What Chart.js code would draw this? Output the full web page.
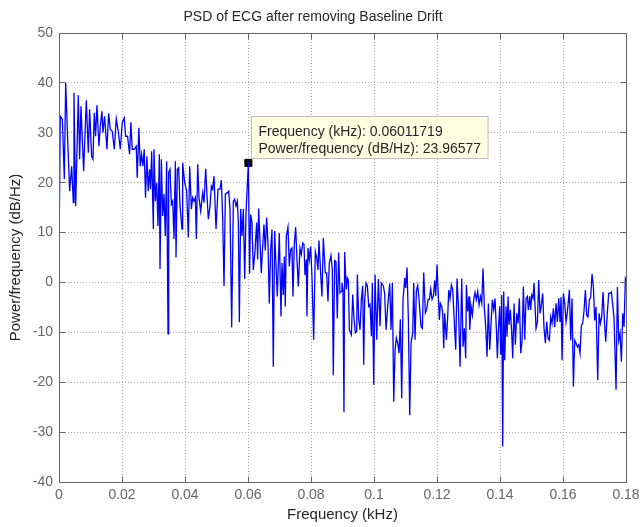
<html>
<head>
    <script src="https://cdn.jsdelivr.net/npm/chart.js@4.4.3/dist/chart.umd.min.js"></script>
    <style>
        body { margin: 0; background: #fff; }
    </style>
</head>
<body>
    <canvas id="psdchart" width="642" height="527"></canvas>
    <script>
        // PSD of the ECG after removing baseline drift, frequency in kHz, level in dB/Hz
        freqKHz = [
            0, 0.0004, 0.00106, 0.00169, 0.00212, 0.00275, 0.00338, 0.00402, 0.00455, 0.00476,
            0.00529, 0.00613, 0.00655, 0.00698, 0.00782, 0.00867, 0.0093, 0.00972, 0.01036, 0.01078,
            0.0112, 0.01162, 0.01205, 0.01268, 0.01311, 0.01363, 0.01395, 0.01448, 0.01522, 0.01575,
            0.01628, 0.01691, 0.01754, 0.01818, 0.01881, 0.01945, 0.02008, 0.02071, 0.02114, 0.02177,
            0.0224, 0.02282, 0.02325, 0.02388, 0.02452, 0.02483, 0.02536, 0.02578, 0.02621, 0.02663,
            0.02705, 0.02747, 0.0279, 0.02832, 0.02874,
            0.02905, 0.02942, 0.02995, 0.03016, 0.03058, 0.03101, 0.03143, 0.03185, 0.03207, 0.03249,
            0.03291, 0.03334, 0.03376, 0.03418, 0.03461, 0.03482, 0.03524, 0.03567, 0.03609, 0.03651,
            0.03694, 0.03715, 0.03757, 0.038, 0.03842, 0.03905, 0.03926, 0.0399, 0.04053, 0.04106,
            0.04149, 0.04202, 0.04244, 0.04286, 0.04329, 0.0436, 0.04403, 0.04445, 0.04498, 0.04561,
            0.04604, 0.04657, 0.0471, 0.04741, 0.04794, 0.04837, 0.04879, 0.04921, 0.04985, 0.05048,
            0.05112, 0.05154, 0.05197, 0.05239, 0.05281, 0.05345, 0.05387, 0.05429, 0.05482, 0.05535,
            0.05577, 0.0562, 0.05662, 0.05694, 0.05725, 0.05768, 0.0581, 0.05852, 0.05895, 0.05937,
            0.06011719, 0.0605,
            0.06084, 0.06126, 0.06168, 0.06221, 0.06274, 0.06306, 0.06338, 0.0638, 0.06422, 0.06465,
            0.06507, 0.06549, 0.06592, 0.06634, 0.06676, 0.06719, 0.06761, 0.06803, 0.06846, 0.06888,
            0.0693, 0.06994, 0.07047, 0.07079, 0.07121, 0.07153, 0.07184, 0.07216, 0.07269, 0.07311,
            0.07354, 0.07396, 0.07428, 0.0747, 0.07513, 0.07555, 0.07597, 0.0765, 0.07692, 0.07735,
            0.07777, 0.07809, 0.07851, 0.07872, 0.07904, 0.07946, 0.07988, 0.08031, 0.08084, 0.08137,
            0.08179, 0.08221, 0.08253, 0.08306, 0.08348, 0.08391, 0.08454, 0.08497, 0.08539, 0.08581,
            0.08634, 0.08677, 0.08708, 0.08751, 0.08793, 0.08835, 0.08878, 0.0892, 0.08962, 0.08984,
            0.09015, 0.09047, 0.09068, 0.09091, 0.09123, 0.09155, 0.09186, 0.09218,
            0.09282, 0.09324, 0.09366, 0.09409, 0.09451, 0.09472, 0.09515, 0.09557, 0.09599, 0.09641,
            0.09673, 0.09705, 0.09747, 0.0979, 0.09832, 0.09874, 0.09917, 0.09948, 0.09991, 0.10033,
            0.10086, 0.10139, 0.10192, 0.10234, 0.10298, 0.1034, 0.10382, 0.10435, 0.10499, 0.10541,
            0.10583, 0.10626, 0.10668, 0.1071, 0.10753, 0.10795, 0.10837, 0.1088, 0.10922, 0.10975,
            0.11007, 0.11049, 0.11091, 0.11134, 0.11176, 0.11229, 0.11261, 0.11303, 0.11345, 0.11388,
            0.1143, 0.11493, 0.11536, 0.11578, 0.11631, 0.11673, 0.11716, 0.11758, 0.118, 0.11843,
            0.11885, 0.11927, 0.11959, 0.12001,
            0.12033, 0.12076, 0.12107, 0.1215, 0.12181, 0.12213, 0.12245, 0.12298, 0.1234, 0.12372,
            0.12414, 0.12457, 0.12499, 0.12552, 0.12594, 0.12636, 0.12679, 0.12732, 0.12785, 0.12827,
            0.12869, 0.12912, 0.12933, 0.12975, 0.13017, 0.13039, 0.13081, 0.13123, 0.13166, 0.13208,
            0.1325, 0.13293, 0.13335, 0.13377, 0.1342, 0.13462, 0.13504, 0.13547, 0.13589, 0.13631,
            0.13674, 0.13716, 0.13758, 0.13801, 0.13843, 0.13885, 0.13917, 0.13949, 0.13991, 0.14023,
            0.14055, 0.14086, 0.14118, 0.1415, 0.14192, 0.14224, 0.14256, 0.14287, 0.1433, 0.14372,
            0.14404, 0.14446, 0.14488, 0.14531, 0.14573, 0.14615, 0.14658, 0.147, 0.14742, 0.14785,
            0.14827, 0.14869, 0.14901, 0.14944, 0.14975, 0.15007, 0.15049, 0.15081,
            0.15144, 0.15187, 0.15229, 0.15271, 0.15314, 0.15356, 0.15398, 0.15441, 0.15483, 0.15525,
            0.15568, 0.1561, 0.15652, 0.15695, 0.15737, 0.15779, 0.15822, 0.15864, 0.15906, 0.15938,
            0.1597, 0.16012, 0.16055, 0.16097, 0.16139, 0.16203, 0.16245, 0.16287, 0.1633, 0.16372,
            0.16414, 0.16457, 0.16499, 0.16541, 0.16584, 0.16626, 0.16668, 0.16711, 0.16753, 0.16795,
            0.16838, 0.1688, 0.16922, 0.16965, 0.17007, 0.17049, 0.17102, 0.17145, 0.17187, 0.17229,
            0.17272, 0.17314, 0.17356, 0.17409, 0.17452, 0.17494, 0.17536, 0.17579, 0.17621, 0.17684,
            0.17727, 0.17769, 0.17811, 0.17854, 0.17896, 0.17938, 0.17981, 0.18
        ];
        psdDb = [
            5, 33.3, 32.7, 20.7, 40, 28.7, 18.3, 23.3, 16, 38,
            15.3, 37.5, 24.7, 35.3, 22.3, 36.5, 26, 34.7, 25.3, 24.7,
            34, 29.3, 35.5, 27.3, 31.3, 34.3, 30, 33.3, 26.7, 33.9,
            30.7, 30.3, 26.7, 32.8, 30.3, 26.7, 32, 33, 29.3, 29.3,
            25.7, 32.1, 26.7, 26.7, 27.3, 21, 31, 23.3, 25.7, 23.3,
            26.7, 17, 25.3, 18.3, 22.7,
            18.7, 26.3, 10.7, 26.7, 16.3, 20, 11.3, 25.7, 2.7, 24.7,
            13.3, 17.7, 9.3, 24.3, -10.3, 22, 22.7, 15.7, 16.3, 8.7,
            24.3, 5, 22.7, 23, 15.3, 10.7, 24, 20, 18.3, 9,
            23.3, 14.7, 17, 16.3, 17, 8.7, 23.7, 17, 14.3, 18,
            16, 22.8, 16, 12.7, 15.3, 19.3, 18.7, 21.3, 10.7, 18.7,
            18.7, 20.5, 12.7, -0.7, 17.7, 18, 18.3, 14.7, -9, 16.3,
            16.7, 15.3, 16.3, 12, -8, 14.7, 9.3, 14.7, 0.7, 14,
            23.96577, 1.8,
            13.6, 12, 2.5, 6.2, 12, 4.6, 14.8, 8.3, 1.9, 7.2,
            11.6, 6.4, 13, 7.9, -4.2, 6.6, 10.6, -16.9, 10.3, 3.6,
            -2.8, 9.9, -6.8, 3.9, -2.5, 5.2, -4.8, 9.3, 11.1, 3.2,
            6.6, 6.9, -2.8, 7.6, 11.1, 4.6, -0.8, 6.9, 5.6, 7.9,
            7.6, 1.5, 4.6, -6.8, 6.9, 4.6, 7.2, 1.2, -11.5, 6.2,
            5, 2.5, 8.4, 1.9, -2.8, 8.9, 1.9, 1.9, -3.8, 3.9,
            5.4, 2.5, -18.6, 4.4, 4.2, -7.2, 6, -2.1, -1.8, -0.1,
            -1.5, -26, 6.1, 2.6, -1.4, 0.9, 0.5, -9.5,
            -10.5, -2.4, -7.4, -10.1, -9.8, 1.6, -7.4, -9.5, -3.4, -0.7,
            -16.5, -3.4, -0.1, -0.7, -4.8, -4.4, -10.8, -0.1, -20.5, 1.6,
            -11.5, 0.7, -8.8, -0.1, -0.7, -2.4, -9.5, -4.8, -0.2, -9.5,
            -0.1, -23.9, -13.5, -11.1, -12.1, -14.2, -7.4, -23.2, -3.4, 0.9,
            -1.1, 3, -7.4, -26.6, -12.1, -10.1, -0.1, -11.5, -1.7, -0.6,
            -3.4, -8.8, -9.2, 2, -6.1, -5.4, -3.4, -3.4, -1.3, -3.4,
            -2.7, 0.4, -2.7, 3.6,
            -1.5, -7.5, -4.2, -4.8, -6.2, -13.2, -6.2, -11.5, -6.9, -1.5,
            -3.2, -0.5, -1.5, -8.2, -13.5, 0.8, -4.5, -16.9, 0.8, -12.9,
            -9.2, -15.2, -0.5, -5.8, -2.8, -9.5, -4.8, -6.5, -3.5, -2,
            -3.5, -1.8, -4.5, -2.8, -4.2, 2.8, -5.2, -8.9, -14.9, -4.2,
            -13.5, -8.2, -3.5, -5.5, -3.2, -9.5, -15.2, -9.5, -4.8, -14.5,
            -2.5, -32.9, -1.8, -15.6, -4.8, -10.9, -2.8, -8.5, -5.5, -10.2,
            -15.2, -4.2, -12.5, -6.2, -8.2, -3.2, -14.2, -11.9, -0.8, -11.5,
            -3.2, -2.8, -5.5, -2.8, -5.5, -2.5, -3.2, -0.1,
            -9.2, -7.9, 0.5, -6.2, -4.5, -2.2, -9.2, -12.2, -7.9, -11.2,
            -11.6, -6.9, -8.2, -5.2, -8.9, -4.2, -7.9, -3.2, -7.9, -2.9,
            -15.6, -2.2, -4.2, -7.9, -5.9, -1.5, -11.6, -3.2, -20.9, -11.6,
            -12.2, -12.9, -12.5, -14.2, -8.6, -8.2, -5.6, -1.5, -6.6, -6.9,
            -3.5, -2.9, 1.7, -0.9, -7.6, -4.9, -19.6, -6.2, -8.2, -6.9,
            -1.9, -7.6, -11.9, -5.9, -2.2, -2.2, -1.9, -4.5, -7.2, -21.5,
            -0.9, -11.6, -10.2, -15.9, -6.2, -8.9, 0.8, 0.5
        ];

        // data tip
        tipFreq = 0.06011719;
        tipPower = 23.96577;

        xTicks = [0, 0.02, 0.04, 0.06, 0.08, 0.1, 0.12, 0.14, 0.16, 0.18];
        xTickLabels = ["0", "0.02", "0.04", "0.06", "0.08", "0.1", "0.12", "0.14", "0.16", "0.18"];
        yTicks = [-40, -30, -20, -10, 0, 10, 20, 30, 40, 50];

        fontName = '"Liberation Sans", Arial, Helvetica, sans-serif';
        axisColor = "#666666";
        gridColor = "#a8a8a8";

        points = freqKHz.map(function (f, i) { return { x: f, y: psdDb[i] }; });

        // box around the axes, inward tick marks and the data tip
        boxPlugin = {
            id: "boxPlugin",
            afterDatasetsDraw: function (chart) {
                ctx = chart.ctx;
                a = chart.chartArea;
                xs = chart.scales.x;
                ys = chart.scales.y;
                l = Math.floor(a.left) + 0.5;
                r = Math.floor(a.right) + 0.5;
                t = Math.floor(a.top) + 0.5;
                b = Math.floor(a.bottom) + 0.5;
                ctx.save();
                ctx.strokeStyle = axisColor;
                ctx.lineWidth = 1;
                ctx.beginPath();
                ctx.rect(l, t, r - l, b - t);
                xTicks.forEach(function (v) {
                    px = Math.floor(xs.getPixelForValue(v)) + 0.5;
                    ctx.moveTo(px, b); ctx.lineTo(px, b - 6);
                    ctx.moveTo(px, t); ctx.lineTo(px, t + 6);
                });
                yTicks.forEach(function (v) {
                    py = Math.floor(ys.getPixelForValue(v)) + 0.5;
                    ctx.moveTo(l, py); ctx.lineTo(l + 6, py);
                    ctx.moveTo(r, py); ctx.lineTo(r - 6, py);
                });
                ctx.stroke();

                // data tip box next to the marker
                mx = xs.getPixelForValue(tipFreq);
                my = ys.getPixelForValue(tipPower);
                lines = ["Frequency (kHz): " + tipFreq, "Power/frequency (dB/Hz): " + tipPower];
                ctx.font = "14px " + fontName;
                w = Math.max(ctx.measureText(lines[0]).width, ctx.measureText(lines[1]).width) + 14;
                bx = Math.round(mx + 3) + 0.5;
                by = Math.round(my - 47) + 0.5;
                ctx.fillStyle = "#ffffe1";
                ctx.fillRect(bx, by, w, 42);
                ctx.strokeStyle = "#bdbdbd";
                ctx.strokeRect(bx, by, w, 42);
                ctx.fillStyle = "#262626";
                ctx.textBaseline = "alphabetic";
                ctx.fillText(lines[0], bx + 7, by + 19);
                ctx.fillText(lines[1], bx + 7, by + 36);
                ctx.restore();
            }
        };

        new Chart(document.querySelector("#psdchart"), {
            type: "line",
            data: {
                datasets: [{
                    data: points,
                    borderColor: "#0000ff",
                    borderWidth: 1.3,
                    pointRadius: 0,
                    tension: 0
                }, {
                    data: [{ x: tipFreq, y: tipPower }],
                    showLine: false,
                    pointStyle: "rect",
                    pointRadius: 5,
                    pointBackgroundColor: "#000000",
                    pointBorderColor: "#000000",
                    pointBorderWidth: 1
                }]
            },
            options: {
                responsive: false,
                animation: false,
                events: [],
                layout: { padding: { left: 0, right: 16, top: 0, bottom: 0 } },
                plugins: {
                    legend: { display: false },
                    tooltip: { enabled: false },
                    title: {
                        display: true,
                        text: "PSD of ECG after removing Baseline Drift",
                        color: "#262626",
                        font: { family: fontName, size: 14, weight: "normal" },
                        padding: { top: 9, bottom: 7.2 }
                    }
                },
                scales: {
                    x: {
                        type: "linear",
                        min: 0,
                        max: 0.18,
                        afterBuildTicks: function (s) { s.ticks = xTicks.map(function (v) { return { value: v }; }); },
                        afterFit: function (s) {
                            s.height = 45;
                            s.paddingLeft = 0;
                            s.paddingRight = 0;
                        },
                        ticks: {
                            autoSkip: false,
                            maxRotation: 0,
                            padding: 5,
                            color: axisColor,
                            font: { family: fontName, size: 14 },
                            callback: function (v, i) { return xTickLabels[i]; }
                        },
                        grid: { color: gridColor, lineWidth: 1, drawTicks: false },
                        border: { display: false, dash: [1, 2] },
                        title: {
                            display: true,
                            text: "Frequency (kHz)",
                            color: "#262626",
                            font: { family: fontName, size: 15 },
                            padding: { top: 0, bottom: 3 }
                        }
                    },
                    y: {
                        min: -40,
                        max: 50,
                        afterBuildTicks: function (s) { s.ticks = yTicks.map(function (v) { return { value: v }; }); },
                        afterFit: function (s) { s.width = 59; },
                        ticks: {
                            padding: 6,
                            color: axisColor,
                            font: { family: fontName, size: 14 }
                        },
                        grid: { color: gridColor, lineWidth: 1, drawTicks: false },
                        border: { display: false, dash: [1, 2] },
                        title: {
                            display: true,
                            text: "Power/frequency (dB/Hz)",
                            color: "#262626",
                            font: { family: fontName, size: 15 },
                            padding: { top: 6.5, bottom: 0 }
                        }
                    }
                }
            },
            plugins: [boxPlugin]
        });
    </script>
</body>
</html>
